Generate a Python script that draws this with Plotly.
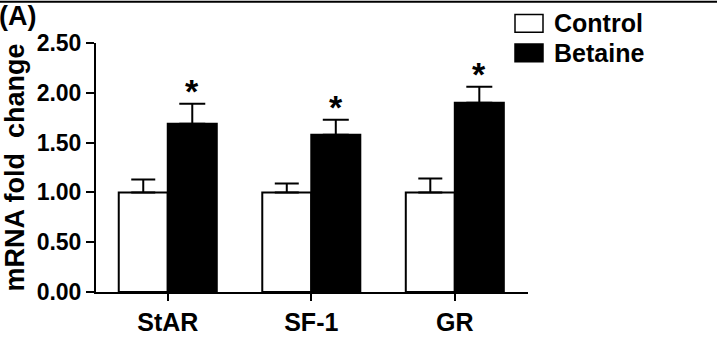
import plotly.graph_objects as go

genes = ["StAR", "SF-1", "GR"]
control_mean = [1.00, 1.00, 1.00]
control_sem = [0.13, 0.09, 0.14]
betaine_mean = [1.69, 1.58, 1.90]
betaine_sem = [0.20, 0.15, 0.16]
y_ticks = [0.0, 0.5, 1.0, 1.5, 2.0, 2.5]
y_tick_labels = ["0.00", "0.50", "1.00", "1.50", "2.00", "2.50"]
significant = [True, True, True]

W, H = 717, 348
L, R, T, B = 96, 189, 43, 52
FONT = dict(family="Liberation Sans, Arial, sans-serif", color="black", weight="bold")


def px_x(px):
    return (px - L) / (W - L - R)


def px_y(py):
    return (H - B - py) / (H - T - B)


fig = go.Figure()
fig.add_trace(go.Bar(
    x=genes, y=control_mean, name="Control",
    marker=dict(color="white", line=dict(color="black", width=2)),
    error_y=dict(type="data", array=control_sem, arrayminus=[0] * len(genes),
                 symmetric=False, color="black", thickness=2, width=12),
))
fig.add_trace(go.Bar(
    x=genes, y=betaine_mean, name="Betaine",
    marker=dict(color="black", line=dict(color="black", width=2)),
    error_y=dict(type="data", array=betaine_sem, arrayminus=[0] * len(genes),
                 symmetric=False, color="black", thickness=2, width=13),
))

annotations = []
bar_w = (1 - 0.317) / 2
for i, sig in enumerate(significant):
    if sig:
        annotations.append(dict(
            x=i + bar_w / 2, y=betaine_mean[i] + betaine_sem[i],
            xref="x", yref="y", text="*", showarrow=False,
            yanchor="bottom", yshift=-8,
            font=dict(FONT, size=34),
        ))

# panel tag
annotations.append(dict(
    x=px_x(-3), y=px_y(-2), xref="paper", yref="paper", text="(A)",
    showarrow=False, xanchor="left", yanchor="top",
    font=dict(FONT, size=27),
))

# legend drawn by hand: swatches + labels
legend_items = [("Control", "white"), ("Betaine", "black")]
shapes = []
for k, (label, fill) in enumerate(legend_items):
    top = 14 + 30 * k
    shapes.append(dict(
        type="rect", xref="paper", yref="paper",
        x0=px_x(515), x1=px_x(543), y0=px_y(top + 18), y1=px_y(top),
        fillcolor=fill, line=dict(color="black", width=1.5),
    ))
    annotations.append(dict(
        x=px_x(552), y=px_y(top + 9), xref="paper", yref="paper",
        text=label, showarrow=False, xanchor="left", yanchor="middle",
        font=dict(FONT, size=25),
    ))

# rule along the top edge
shapes.append(dict(
    type="line", xref="paper", yref="paper",
    x0=px_x(0), x1=px_x(W), y0=px_y(1), y1=px_y(1),
    line=dict(color="black", width=2),
))

fig.update_layout(
    width=W, height=H,
    margin=dict(l=L, r=R, t=T, b=B, pad=0),
    paper_bgcolor="white", plot_bgcolor="white",
    barmode="group", bargap=0.317, bargroupgap=0,
    showlegend=False,
    annotations=annotations, shapes=shapes,
    font=FONT,
)
fig.update_xaxes(
    range=[-0.5, 2.51], showgrid=False, zeroline=False,
    showline=True, linecolor="black", linewidth=2,
    ticks="outside", ticklen=7, tickwidth=2, tickcolor="black",
    tickfont=dict(FONT, size=25),
)
fig.update_yaxes(
    range=[0, 2.5], showgrid=False, zeroline=False,
    showline=True, linecolor="black", linewidth=2,
    ticks="outside", ticklen=8, tickwidth=2, tickcolor="black",
    tickvals=y_ticks, ticktext=y_tick_labels,
    tickfont=dict(FONT, size=23),
    title=dict(text="mRNA fold  change", font=dict(FONT, size=27), standoff=6),
)

fig.write_html("out.html")
